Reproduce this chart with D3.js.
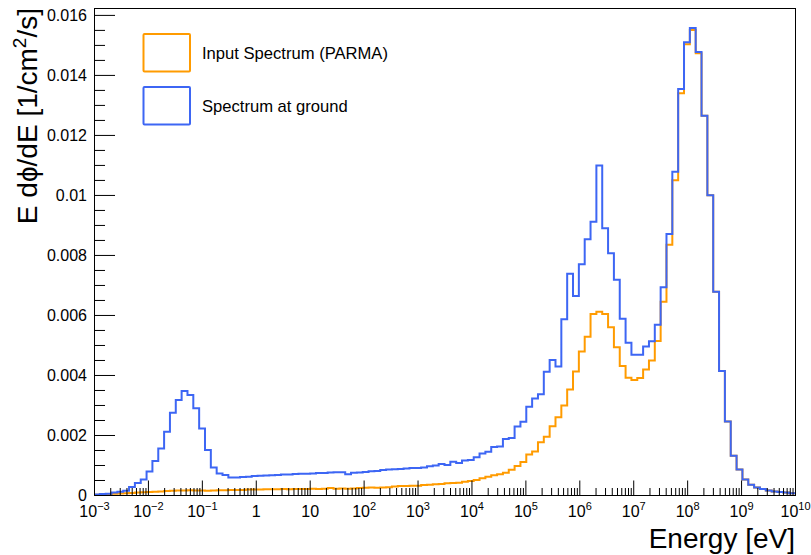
<!DOCTYPE html>
<html>
<head>
<meta charset="utf-8">
<script src="https://cdn.jsdelivr.net/npm/d3@7"></script>
<style>
  body { margin: 0; background: #fff; }
  svg { display: block; }
  text { font-family: "Liberation Sans", Arial, Helvetica, sans-serif; fill: #000; }
</style>
</head>
<body>
<svg id="chart" width="811" height="555"></svg>
<script>
// Histogram binning: 120 log-uniform bins from 1e-3 eV to 1e10 eV
const binRange = [1e-3, 1e10];
const binCount = 120;

// E dPhi/dE per bin, input spectrum (PARMA)
const parmaValues = [
  0.00001, 0.00002, 0.00003, 0.00004, 0.00005, 0.00006, 0.00007, 0.00008, 0.00009, 0.00010,
  0.00011, 0.00012, 0.00013, 0.00014, 0.00015, 0.00015, 0.00016, 0.00015, 0.00015, 0.00014,
  0.00015, 0.00016, 0.00016, 0.00017, 0.00017, 0.00017, 0.00018, 0.00018, 0.00018, 0.00019,
  0.00019, 0.00019, 0.00020, 0.00019, 0.00020, 0.00020, 0.00020, 0.00021, 0.00020, 0.00021,
  0.00023, 0.00021, 0.00022, 0.00021, 0.00022, 0.00023, 0.00024, 0.00025, 0.00024, 0.00025,
  0.00026, 0.00028, 0.00030, 0.00030, 0.00031, 0.00031, 0.00033, 0.00034, 0.00036, 0.00037,
  0.00039, 0.00040, 0.00041, 0.00044, 0.00047, 0.00050, 0.00056, 0.00061, 0.00066, 0.00069,
  0.00074, 0.00084, 0.00097, 0.00110, 0.00135, 0.00145, 0.00176, 0.00194, 0.00229, 0.00259,
  0.00298, 0.00352, 0.00412, 0.00478, 0.00527, 0.00603, 0.00611, 0.00603, 0.00559, 0.00492,
  0.00430, 0.00391, 0.00383, 0.00390, 0.00418, 0.00448, 0.00513, 0.00644, 0.00834, 0.01049,
  0.01339, 0.01502, 0.01550, 0.01472, 0.01264, 0.00999, 0.00677, 0.00413, 0.00245, 0.00131,
  0.00085, 0.00052, 0.00034, 0.00025, 0.00020, 0.00015, 0.00012, 0.00010, 0.00008, 0.00006
];

// E dPhi/dE per bin, spectrum at ground
const groundValues = [
  0.00002, 0.00003, 0.00004, 0.00008, 0.00011, 0.00014, 0.00027, 0.00040, 0.00052, 0.00078,
  0.00113, 0.00155, 0.00211, 0.00274, 0.00317, 0.00347, 0.00333, 0.00289, 0.00222, 0.00150,
  0.00092, 0.00072, 0.00067, 0.00058, 0.00058, 0.00060, 0.00061, 0.00063, 0.00064, 0.00065,
  0.00066, 0.00067, 0.00068, 0.00068, 0.00070, 0.00071, 0.00071, 0.00072, 0.00073, 0.00073,
  0.00075, 0.00076, 0.00076, 0.00069, 0.00074, 0.00075, 0.00077, 0.00079, 0.00080, 0.00083,
  0.00085, 0.00086, 0.00087, 0.00088, 0.00090, 0.00090, 0.00092, 0.00096, 0.00098, 0.00103,
  0.00100, 0.00111, 0.00107, 0.00115, 0.00117, 0.00126, 0.00138, 0.00144, 0.00160, 0.00162,
  0.00187, 0.00190, 0.00228, 0.00244, 0.00294, 0.00322, 0.00336, 0.00411, 0.00450, 0.00428,
  0.00586, 0.00737, 0.00663, 0.00769, 0.00852, 0.00911, 0.01098, 0.00889, 0.00806, 0.00717,
  0.00587, 0.00507, 0.00467, 0.00467, 0.00495, 0.00512, 0.00567, 0.00692, 0.00870, 0.01077,
  0.01353, 0.01509, 0.01556, 0.01476, 0.01264, 0.00999, 0.00677, 0.00413, 0.00245, 0.00131,
  0.00085, 0.00052, 0.00034, 0.00025, 0.00020, 0.00015, 0.00012, 0.00010, 0.00008, 0.00006
];

const seriesNames = ["Input Spectrum (PARMA)", "Spectrum at ground"];

// Axis ticks
const yMajorTicks = [0, 0.002, 0.004, 0.006, 0.008, 0.01, 0.012, 0.014, 0.016];
const yTickLabels = ["0", "0.002", "0.004", "0.006", "0.008", "0.01", "0.012", "0.014", "0.016"];
const xDecadeExponents = [-3, -2, -1, 0, 1, 2, 3, 4, 5, 6, 7, 8, 9, 10];

const yMax = 0.01623;

// ---------------------------------------------------------------
const svg = d3.select("#chart");
const frame = { left: 94, right: 795, top: 8, bottom: 495 };
const colors = { parma: "#ff9b00", ground: "#3d66f4" };

const x = d3.scaleLog().domain(binRange).range([frame.left, frame.right]);
const y = d3.scaleLinear().domain([0, yMax]).range([frame.bottom, frame.top]);

const logStep = (Math.log10(binRange[1]) - Math.log10(binRange[0])) / binCount;
const edges = d3.range(binCount + 1).map(i => Math.pow(10, Math.log10(binRange[0]) + i * logStep));

function histPoints(values) {
  const pts = values.map((v, i) => [edges[i], v]);
  pts.push([edges[binCount], values[binCount - 1]]);
  return pts;
}

const stepLine = d3.line()
  .x(d => x(d[0]))
  .y(d => y(d[1]))
  .curve(d3.curveStepAfter);

const plot = svg.append("g");

// Y axis: major + minor ticks, pointing into the frame
const yMinorTicks = d3.range(0, 0.01601, 0.0005).filter(v => !yMajorTicks.some(m => Math.abs(m - v) < 1e-9));
svg.append("g")
  .attr("transform", `translate(${frame.left},0)`)
  .call(d3.axisLeft(y).tickValues(yMinorTicks).tickFormat("").tickSizeInner(-11).tickSizeOuter(0))
  .call(g => g.select(".domain").remove());
svg.append("g")
  .attr("transform", `translate(${frame.left},0)`)
  .call(d3.axisLeft(y).tickValues(yMajorTicks)
    .tickFormat((d, i) => yTickLabels[i]).tickSizeInner(-21).tickSizeOuter(0).tickPadding(7))
  .call(g => g.select(".domain").remove())
  .call(g => g.selectAll("text").attr("font-size", 16).style("font-family", "Liberation Sans, Arial, sans-serif"));

// X axis: decade majors, 2..9 minors
const xMajor = xDecadeExponents.map(e => Math.pow(10, e));
const xMinor = [];
xDecadeExponents.slice(0, -1).forEach(e => {
  for (let k = 2; k <= 9; k++) xMinor.push(k * Math.pow(10, e));
});
svg.append("g")
  .attr("transform", `translate(0,${frame.bottom})`)
  .call(d3.axisBottom(x).tickValues(xMinor).tickFormat("").tickSizeInner(-7).tickSizeOuter(0))
  .call(g => g.select(".domain").remove());
const xAxisG = svg.append("g")
  .attr("transform", `translate(0,${frame.bottom})`)
  .call(d3.axisBottom(x).tickValues(xMajor).tickFormat("").tickSizeInner(-14.5).tickSizeOuter(0))
  .call(g => g.select(".domain").remove());

// decade labels with superscript exponents
xAxisG.selectAll(".tick").each(function(d, i) {
  const e = xDecadeExponents[i];
  const t = d3.select(this).append("text")
    .attr("y", 22)
    .attr("font-size", 16)
    .attr("text-anchor", "middle");
  if (e === 0) t.text("1");
  else if (e === 1) t.text("10");
  else {
    t.append("tspan").text("10");
    t.append("tspan").attr("font-size", 11).attr("dy", -7).text(String(e).replace("-", "\u2212"));
  }
});

// histograms
plot.append("path")
  .datum(histPoints(parmaValues))
  .attr("fill", "none")
  .attr("stroke", colors.parma)
  .attr("stroke-width", 2)
  .attr("d", stepLine);
plot.append("path")
  .datum(histPoints(groundValues))
  .attr("fill", "none")
  .attr("stroke", colors.ground)
  .attr("stroke-width", 2)
  .attr("d", stepLine);

// frame
svg.append("rect")
  .attr("x", frame.left + 0.5).attr("y", frame.top + 0.5)
  .attr("width", frame.right - frame.left).attr("height", frame.bottom - frame.top)
  .attr("fill", "none").attr("stroke", "#000").attr("stroke-width", 1);

// axis titles
svg.append("text")
  .attr("x", frame.right).attr("y", 548)
  .attr("text-anchor", "end")
  .attr("font-size", 28)
  .text("Energy [eV]");

const yTitle = svg.append("text")
  .attr("transform", `translate(37,${frame.top}) rotate(-90)`)
  .attr("text-anchor", "end")
  .attr("font-size", 28);
yTitle.append("tspan").text("E d\u03d5/dE [1/cm");
yTitle.append("tspan").attr("font-size", 19).attr("dy", -11).text("2");
yTitle.append("tspan").attr("dy", 11).text("/s]");

// legend
const legendItems = [
  { name: seriesNames[0], color: colors.parma },
  { name: seriesNames[1], color: colors.ground }
];
const legend = svg.append("g");
legendItems.forEach((it, i) => {
  const gy = 34 + i * 53;
  legend.append("rect")
    .attr("x", 143.5).attr("y", gy)
    .attr("width", 46.5).attr("height", 37.5)
    .attr("rx", 1)
    .attr("fill", "none").attr("stroke", it.color).attr("stroke-width", 2);
  legend.append("text")
    .attr("x", 202).attr("y", gy + 24.5)
    .attr("font-size", 16.6)
    .text(it.name);
});
</script>
</body>
</html>
